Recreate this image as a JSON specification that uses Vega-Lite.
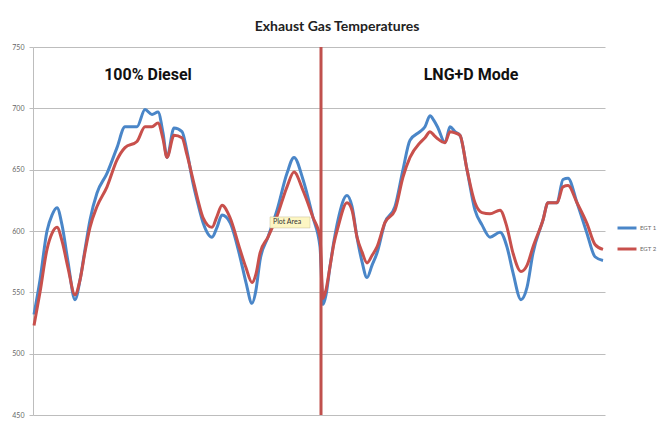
{
  "$schema": "https://vega.github.io/schema/vega-lite/v6.json",
  "width": 572,
  "height": 368,
  "autosize": "none",
  "padding": {"left": 33, "top": 47, "right": 56, "bottom": 6},
  "background": "white",
  "title": {"text": "Exhaust Gas Temperatures", "font": "Lato", "fontSize": 14, "fontWeight": "bold", "color": "#222", "anchor": "middle", "dx": 18, "offset": 9},
  "config": {"view": {"stroke": null}},
  "datasets": {
    "egt": [
      {"t":1,"v":532,"s":"EGT 1"},{"t":7,"v":560,"s":"EGT 1"},{"t":14,"v":600,"s":"EGT 1"},{"t":19,"v":613,"s":"EGT 1"},{"t":24,"v":619,"s":"EGT 1"},{"t":29,"v":605,"s":"EGT 1"},{"t":35,"v":575,"s":"EGT 1"},{"t":42,"v":544,"s":"EGT 1"},{"t":47,"v":560,"s":"EGT 1"},{"t":52,"v":585,"s":"EGT 1"},{"t":57,"v":609,"s":"EGT 1"},{"t":64,"v":631,"s":"EGT 1"},{"t":74,"v":647,"s":"EGT 1"},{"t":84,"v":668,"s":"EGT 1"},{"t":92,"v":685,"s":"EGT 1"},{"t":104,"v":685,"s":"EGT 1"},{"t":112,"v":699,"s":"EGT 1"},{"t":119,"v":695,"s":"EGT 1"},{"t":125,"v":697,"s":"EGT 1"},{"t":130,"v":680,"s":"EGT 1"},{"t":134,"v":660,"s":"EGT 1"},{"t":141,"v":684,"s":"EGT 1"},{"t":149,"v":681,"s":"EGT 1"},{"t":154,"v":665,"s":"EGT 1"},{"t":160,"v":639,"s":"EGT 1"},{"t":165,"v":622,"s":"EGT 1"},{"t":170,"v":607,"s":"EGT 1"},{"t":179,"v":595,"s":"EGT 1"},{"t":184,"v":603,"s":"EGT 1"},{"t":189,"v":613,"s":"EGT 1"},{"t":197,"v":607,"s":"EGT 1"},{"t":207,"v":579,"s":"EGT 1"},{"t":213,"v":558,"s":"EGT 1"},{"t":219,"v":541,"s":"EGT 1"},{"t":223,"v":552,"s":"EGT 1"},{"t":227,"v":576,"s":"EGT 1"},{"t":235,"v":595,"s":"EGT 1"},{"t":244,"v":617,"s":"EGT 1"},{"t":254,"v":647,"s":"EGT 1"},{"t":261,"v":660,"s":"EGT 1"},{"t":270,"v":642,"s":"EGT 1"},{"t":280,"v":611,"s":"EGT 1"},{"t":287,"v":587,"s":"EGT 1"},{"t":290,"v":540,"s":"EGT 1"},{"t":293,"v":548,"s":"EGT 1"},{"t":297,"v":571,"s":"EGT 1"},{"t":301,"v":592,"s":"EGT 1"},{"t":305,"v":609,"s":"EGT 1"},{"t":314,"v":629,"s":"EGT 1"},{"t":319,"v":620,"s":"EGT 1"},{"t":324,"v":595,"s":"EGT 1"},{"t":329,"v":575,"s":"EGT 1"},{"t":334,"v":562,"s":"EGT 1"},{"t":339,"v":572,"s":"EGT 1"},{"t":344,"v":582,"s":"EGT 1"},{"t":352,"v":607,"s":"EGT 1"},{"t":362,"v":620,"s":"EGT 1"},{"t":370,"v":650,"s":"EGT 1"},{"t":377,"v":674,"s":"EGT 1"},{"t":387,"v":681,"s":"EGT 1"},{"t":392,"v":685,"s":"EGT 1"},{"t":397,"v":694,"s":"EGT 1"},{"t":401,"v":690,"s":"EGT 1"},{"t":405,"v":684,"s":"EGT 1"},{"t":412,"v":672,"s":"EGT 1"},{"t":417,"v":685,"s":"EGT 1"},{"t":422,"v":681,"s":"EGT 1"},{"t":427,"v":678,"s":"EGT 1"},{"t":434,"v":650,"s":"EGT 1"},{"t":442,"v":617,"s":"EGT 1"},{"t":449,"v":605,"s":"EGT 1"},{"t":457,"v":595,"s":"EGT 1"},{"t":467,"v":599,"s":"EGT 1"},{"t":474,"v":587,"s":"EGT 1"},{"t":480,"v":566,"s":"EGT 1"},{"t":488,"v":544,"s":"EGT 1"},{"t":494,"v":554,"s":"EGT 1"},{"t":500,"v":582,"s":"EGT 1"},{"t":510,"v":609,"s":"EGT 1"},{"t":515,"v":623,"s":"EGT 1"},{"t":524,"v":623,"s":"EGT 1"},{"t":530,"v":642,"s":"EGT 1"},{"t":535,"v":643,"s":"EGT 1"},{"t":544,"v":623,"s":"EGT 1"},{"t":554,"v":598,"s":"EGT 1"},{"t":562,"v":579,"s":"EGT 1"},{"t":570,"v":576,"s":"EGT 1"},
      {"t":1,"v":523,"s":"EGT 2"},{"t":7,"v":550,"s":"EGT 2"},{"t":14,"v":585,"s":"EGT 2"},{"t":19,"v":598,"s":"EGT 2"},{"t":24,"v":603,"s":"EGT 2"},{"t":29,"v":592,"s":"EGT 2"},{"t":35,"v":570,"s":"EGT 2"},{"t":42,"v":548,"s":"EGT 2"},{"t":47,"v":560,"s":"EGT 2"},{"t":52,"v":583,"s":"EGT 2"},{"t":57,"v":603,"s":"EGT 2"},{"t":64,"v":620,"s":"EGT 2"},{"t":74,"v":636,"s":"EGT 2"},{"t":84,"v":658,"s":"EGT 2"},{"t":92,"v":668,"s":"EGT 2"},{"t":104,"v":673,"s":"EGT 2"},{"t":112,"v":685,"s":"EGT 2"},{"t":119,"v":685,"s":"EGT 2"},{"t":125,"v":688,"s":"EGT 2"},{"t":130,"v":675,"s":"EGT 2"},{"t":134,"v":660,"s":"EGT 2"},{"t":141,"v":678,"s":"EGT 2"},{"t":149,"v":676,"s":"EGT 2"},{"t":154,"v":662,"s":"EGT 2"},{"t":160,"v":642,"s":"EGT 2"},{"t":165,"v":625,"s":"EGT 2"},{"t":170,"v":611,"s":"EGT 2"},{"t":179,"v":603,"s":"EGT 2"},{"t":184,"v":612,"s":"EGT 2"},{"t":189,"v":621,"s":"EGT 2"},{"t":197,"v":611,"s":"EGT 2"},{"t":207,"v":585,"s":"EGT 2"},{"t":213,"v":570,"s":"EGT 2"},{"t":219,"v":558,"s":"EGT 2"},{"t":223,"v":565,"s":"EGT 2"},{"t":227,"v":582,"s":"EGT 2"},{"t":235,"v":595,"s":"EGT 2"},{"t":244,"v":612,"s":"EGT 2"},{"t":254,"v":636,"s":"EGT 2"},{"t":261,"v":648,"s":"EGT 2"},{"t":270,"v":633,"s":"EGT 2"},{"t":280,"v":611,"s":"EGT 2"},{"t":287,"v":595,"s":"EGT 2"},{"t":290,"v":545,"s":"EGT 2"},{"t":293,"v":552,"s":"EGT 2"},{"t":297,"v":571,"s":"EGT 2"},{"t":301,"v":590,"s":"EGT 2"},{"t":305,"v":603,"s":"EGT 2"},{"t":314,"v":623,"s":"EGT 2"},{"t":319,"v":617,"s":"EGT 2"},{"t":324,"v":595,"s":"EGT 2"},{"t":329,"v":583,"s":"EGT 2"},{"t":334,"v":574,"s":"EGT 2"},{"t":339,"v":580,"s":"EGT 2"},{"t":344,"v":587,"s":"EGT 2"},{"t":352,"v":607,"s":"EGT 2"},{"t":362,"v":617,"s":"EGT 2"},{"t":370,"v":644,"s":"EGT 2"},{"t":377,"v":660,"s":"EGT 2"},{"t":387,"v":672,"s":"EGT 2"},{"t":392,"v":676,"s":"EGT 2"},{"t":397,"v":681,"s":"EGT 2"},{"t":401,"v":678,"s":"EGT 2"},{"t":405,"v":675,"s":"EGT 2"},{"t":412,"v":672,"s":"EGT 2"},{"t":417,"v":681,"s":"EGT 2"},{"t":422,"v":680,"s":"EGT 2"},{"t":427,"v":678,"s":"EGT 2"},{"t":434,"v":650,"s":"EGT 2"},{"t":442,"v":623,"s":"EGT 2"},{"t":449,"v":615,"s":"EGT 2"},{"t":457,"v":614,"s":"EGT 2"},{"t":467,"v":617,"s":"EGT 2"},{"t":474,"v":603,"s":"EGT 2"},{"t":480,"v":582,"s":"EGT 2"},{"t":488,"v":567,"s":"EGT 2"},{"t":494,"v":572,"s":"EGT 2"},{"t":500,"v":587,"s":"EGT 2"},{"t":510,"v":609,"s":"EGT 2"},{"t":515,"v":623,"s":"EGT 2"},{"t":524,"v":623,"s":"EGT 2"},{"t":530,"v":636,"s":"EGT 2"},{"t":535,"v":637,"s":"EGT 2"},{"t":544,"v":623,"s":"EGT 2"},{"t":554,"v":606,"s":"EGT 2"},{"t":562,"v":589,"s":"EGT 2"},{"t":570,"v":585,"s":"EGT 2"}
    ],
    "modes": [
      {"t": 115, "v": 727, "label": "100% Diesel"},
      {"t": 438, "v": 727, "label": "LNG+D Mode"}
    ],
    "divider": [{"t": 288}],
    "tip": [{"t": 237, "t2": 277, "v": 611.5, "v2": 602.5, "tm": 240, "vm": 607, "label": "Plot Area"}]
  },
  "layer": [
    {
      "data": {"name": "egt"},
      "mark": {"type": "line", "strokeWidth": 3, "interpolate": "monotone"},
      "encoding": {
        "x": {"field": "t", "type": "quantitative", "scale": {"domain": [0, 572], "nice": false, "zero": false}, "axis": null},
        "y": {"field": "v", "type": "quantitative", "scale": {"domain": [450, 750], "nice": false, "zero": false},
              "axis": {"title": null, "values": [450, 500, 550, 600, 650, 700, 750], "grid": true, "gridColor": "#bdbdbd", "gridWidth": 1, "domainColor": "#bdbdbd", "tickColor": "#bdbdbd", "tickSize": 4, "labelPadding": 5, "labelFont": "Lato", "labelFontSize": 7, "labelColor": "#666"}},
        "color": {"field": "s", "type": "nominal", "scale": {"domain": ["EGT 1", "EGT 2"], "range": ["#4a86c8", "#c8504c"]},
                  "legend": {"title": null, "orient": "none", "legendX": 583, "legendY": 170, "symbolType": "stroke", "symbolStrokeWidth": 3, "symbolSize": 360, "labelFont": "Lato", "labelFontSize": 6, "labelColor": "#666", "rowPadding": 4, "labelOffset": 2}},
        "order": {"field": "t", "type": "quantitative"}
      }
    },
    {
      "data": {"name": "divider"},
      "mark": {"type": "rule", "color": "#c0504d", "strokeWidth": 3},
      "encoding": {"x": {"field": "t", "type": "quantitative"}}
    },
    {
      "data": {"name": "modes"},
      "mark": {"type": "text", "font": "Roboto", "fontSize": 16, "fontWeight": "bold", "color": "#111", "align": "center", "baseline": "middle"},
      "encoding": {
        "x": {"field": "t", "type": "quantitative"},
        "y": {"field": "v", "type": "quantitative"},
        "text": {"field": "label"}
      }
    },
    {
      "data": {"name": "tip"},
      "mark": {"type": "rect", "fill": "#fdf6c3", "stroke": "#c9c19a", "strokeWidth": 0.5},
      "encoding": {
        "x": {"field": "t", "type": "quantitative"},
        "x2": {"field": "t2"},
        "y": {"field": "v", "type": "quantitative"},
        "y2": {"field": "v2"}
      }
    },
    {
      "data": {"name": "tip"},
      "mark": {"type": "text", "font": "Lato", "fontSize": 7, "color": "#333", "align": "left", "baseline": "middle"},
      "encoding": {
        "x": {"field": "tm", "type": "quantitative"},
        "y": {"field": "vm", "type": "quantitative"},
        "text": {"field": "label"}
      }
    }
  ]
}
